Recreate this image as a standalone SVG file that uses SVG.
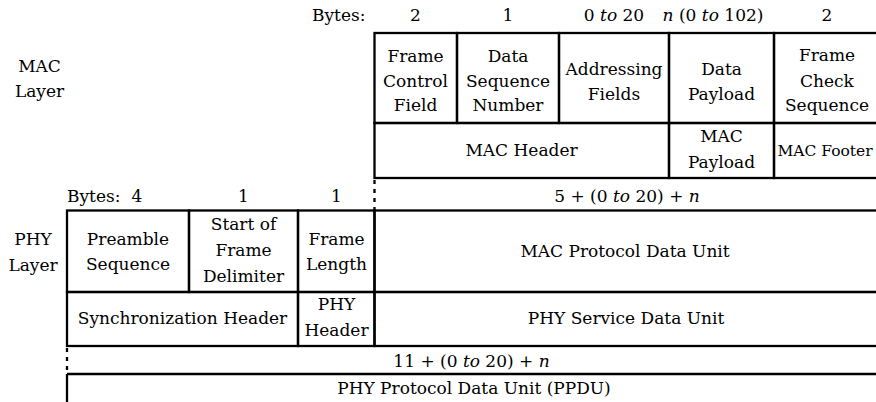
<svg xmlns="http://www.w3.org/2000/svg" width="876" height="402" viewBox="0 0 876 402">
<style>
text{font-family:"DejaVu Serif","Liberation Serif",serif;font-size:17px;fill:#000;text-anchor:middle}
.s{text-anchor:start}
.i{font-style:italic}
.c{fill:none;stroke:#000;stroke-width:2.3}
.d{fill:none;stroke:#000;stroke-width:2.3;stroke-dasharray:4 5}
</style>
<rect width="876" height="402" fill="#fff"/>
<g id="mac-label"><text x="39.5" y="72">MAC</text><text x="39.5" y="97">Layer</text></g>
<g id="mac-bytes">
<text class="s" x="312" y="21">Bytes:</text>
<text x="415.5" y="21">2</text>
<text x="508" y="21">1</text>
<text x="614" y="21">0 <tspan class="i">to</tspan> 20</text>
<text x="713" y="21"><tspan class="i">n</tspan> (0 <tspan class="i">to</tspan> 102)</text>
<text x="827" y="21">2</text>
</g>
<g id="fcf"><rect class="c" x="374.5" y="33" width="82.5" height="90"/><text x="415.5" y="62">Frame</text><text x="415.5" y="86.5">Control</text><text x="415.5" y="111">Field</text></g>
<g id="dsn"><rect class="c" x="457" y="33" width="102" height="90"/><text x="508" y="62">Data</text><text x="508" y="86.5">Sequence</text><text x="508" y="111">Number</text></g>
<g id="af"><rect class="c" x="559" y="33" width="110" height="90"/><text x="614" y="75">Addressing</text><text x="614" y="100">Fields</text></g>
<g id="dp"><rect class="c" x="669" y="33" width="105" height="90"/><text x="721.5" y="75">Data</text><text x="721.5" y="100">Payload</text></g>
<g id="fcs"><rect class="c" x="774" y="33" width="110" height="90"/><text x="827" y="61">Frame</text><text x="827" y="86.5">Check</text><text x="827" y="111">Sequence</text></g>
<g id="mac-header"><rect class="c" x="374.5" y="123" width="294.5" height="55"/><text x="521.5" y="156">MAC Header</text></g>
<g id="mac-payload"><rect class="c" x="669" y="123" width="105" height="55"/><text x="721.5" y="142">MAC</text><text x="721.5" y="168">Payload</text></g>
<g id="mac-footer"><rect class="c" x="774" y="123" width="110" height="55"/><text x="825" y="156" style="font-size:15.5px">MAC Footer</text></g>
<g id="mac-size"><line class="d" x1="374.5" y1="180" x2="374.5" y2="210"/><text x="627" y="202">5 + (0 <tspan class="i">to</tspan> 20) + <tspan class="i">n</tspan></text></g>
<g id="phy-label"><text x="33" y="245">PHY</text><text x="33" y="271">Layer</text></g>
<g id="phy-bytes">
<text class="s" x="67" y="202">Bytes:</text>
<text x="137" y="202">4</text>
<text x="243.5" y="202">1</text>
<text x="336.5" y="202">1</text>
</g>
<g id="preamble"><rect class="c" x="67" y="210.5" width="122" height="81.5"/><text x="128" y="245">Preamble</text><text x="128" y="270">Sequence</text></g>
<g id="sfd"><rect class="c" x="189" y="210.5" width="109" height="81.5"/><text x="243.5" y="230">Start of</text><text x="243.5" y="256">Frame</text><text x="243.5" y="282">Delimiter</text></g>
<g id="frame-length"><rect class="c" x="298" y="210.5" width="76.5" height="81.5"/><text x="336.5" y="245">Frame</text><text x="336.5" y="270">Length</text></g>
<g id="mpdu"><rect class="c" x="374.5" y="210.5" width="510" height="81.5"/><text x="625" y="257">MAC Protocol Data Unit</text></g>
<g id="shr"><rect class="c" x="67" y="292" width="231" height="54"/><text x="182.5" y="324">Synchronization Header</text></g>
<g id="phr"><rect class="c" x="298" y="292" width="76.5" height="54"/><text x="336.5" y="310">PHY</text><text x="336.5" y="336">Header</text></g>
<g id="psdu"><rect class="c" x="374.5" y="292" width="510" height="54"/><text x="626" y="324">PHY Service Data Unit</text></g>
<g id="phy-size"><line class="d" x1="67" y1="348" x2="67" y2="373"/><line class="c" x1="67" y1="374" x2="880" y2="374"/><text x="471.5" y="367">11 + (0 <tspan class="i">to</tspan> 20) + <tspan class="i">n</tspan></text></g>
<g id="ppdu"><line class="c" x1="67" y1="374" x2="67" y2="402"/><text x="474" y="394">PHY Protocol Data Unit (PPDU)</text></g>
<g id="connectors"></g>
</svg>
